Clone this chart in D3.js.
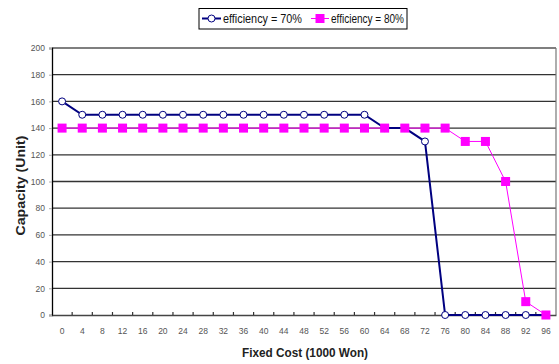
<!DOCTYPE html>
<html><head><meta charset="utf-8">
<script src="https://cdn.jsdelivr.net/npm/d3@7"></script>
<style>
body{margin:0;background:#fff;}
text{font-family:"Liberation Sans",Arial,sans-serif;}
</style></head>
<body><svg id="c" width="559" height="364"></svg>
<script>
const categories = [0,4,8,12,16,20,24,28,32,36,40,44,48,52,56,60,64,68,72,76,80,84,88,92,96];
const eff70 = [160,150,150,150,150,150,150,150,150,150,150,150,150,150,150,150,140,140,130,0,0,0,0,0,0];
const eff80 = [140,140,140,140,140,140,140,140,140,140,140,140,140,140,140,140,140,140,140,140,130,130,100,10,0];
const yTicks = [0,20,40,60,80,100,120,140,160,180,200];
const seriesNames = ["efficiency = 70%","efficiency = 80%"];

const svg = d3.select("#c");
const L=52,R=556,T=48,B=315;
const x = d3.scaleBand().domain(categories).range([L,R]);
const y = d3.scaleLinear().domain([0,200]).range([B,T]);
const cx = d => x(d)+x.bandwidth()/2;

// gridlines
svg.append("g").selectAll("line").data(yTicks.filter(v=>v>0)).join("line")
  .attr("x1",L).attr("x2",R).attr("y1",d=>y(d)).attr("y2",d=>y(d))
  .attr("stroke",d=>d===200?"#000":"#333").attr("stroke-width",d=>d===200?1.2:1.3);
// right border
svg.append("line").attr("x1",R).attr("x2",R).attr("y1",T).attr("y2",B).attr("stroke","#777").attr("stroke-width",1.2);

// y axis
const ya = svg.append("g").attr("transform",`translate(${L},0)`)
  .call(d3.axisLeft(y).tickValues(yTicks).tickSize(3).tickPadding(4));
ya.select(".domain").attr("stroke","#000").attr("stroke-width",1.3);
ya.selectAll(".tick line").attr("stroke","#aaa");
ya.selectAll("text").attr("font-size",8.5).attr("fill","#555");

// x axis
const xa = svg.append("g").attr("transform",`translate(0,${B})`)
  .call(d3.axisBottom(x).tickSize(0).tickPadding(13));
xa.select(".domain").attr("stroke","#444").attr("stroke-width",1.5);
xa.selectAll("text").attr("font-size",8.5).attr("fill","#555");
// category boundary ticks (inside)
svg.append("g").selectAll("line").data(categories.slice(1)).join("line")
  .attr("x1",d=>x(d)).attr("x2",d=>x(d)).attr("y1",B).attr("y2",B-3)
  .attr("stroke","#333").attr("stroke-width",1.2);

// axis titles
svg.append("text").attr("transform",`translate(25,${(T+B)/2+4}) rotate(-90)`)
  .attr("text-anchor","middle").attr("font-size",13).attr("font-weight","bold")
  .attr("textLength",100).attr("lengthAdjust","spacingAndGlyphs")
  .attr("fill","#222").text("Capacity (Unit)");
svg.append("text").attr("x",305).attr("y",357).attr("text-anchor","middle")
  .attr("font-size",13).attr("font-weight","bold")
  .attr("textLength",126).attr("lengthAdjust","spacingAndGlyphs")
  .attr("fill","#222").text("Fixed Cost (1000 Won)");

const line = d3.line().x((d,i)=>cx(categories[i])).y(d=>y(d));

// series 80%
svg.append("path").datum(eff80).attr("d",line).attr("fill","none").attr("stroke","#ff00ff").attr("stroke-width",1);
// series 70%
svg.append("path").datum(eff70).attr("d",line).attr("fill","none").attr("stroke","#000080").attr("stroke-width",2);
svg.append("g").selectAll("circle").data(eff70).join("circle")
  .attr("cx",(d,i)=>cx(categories[i])).attr("cy",d=>y(d)).attr("r",3.5)
  .attr("fill","#fff").attr("stroke","#000080").attr("stroke-width",1);
svg.append("g").selectAll("rect").data(eff80).join("rect")
  .attr("x",(d,i)=>cx(categories[i])-4.5).attr("y",d=>y(d)-4.5).attr("width",9).attr("height",9)
  .attr("fill","#ff00ff");

// legend
const lg = svg.append("g");
lg.append("rect").attr("x",199).attr("y",8.5).attr("width",208).attr("height",20.5)
  .attr("fill","#fff").attr("stroke","#000").attr("stroke-width",1);
lg.append("line").attr("x1",202).attr("x2",221).attr("y1",18.5).attr("y2",18.5).attr("stroke","#000080").attr("stroke-width",2);
lg.append("circle").attr("cx",211.5).attr("cy",18.5).attr("r",3.5).attr("fill","#fff").attr("stroke","#000080");
lg.append("text").attr("x",223).attr("y",22.5).attr("font-size",12).attr("fill","#111")
  .attr("textLength",79).attr("lengthAdjust","spacingAndGlyphs").text(seriesNames[0]);
lg.append("line").attr("x1",311).attr("x2",329).attr("y1",18.5).attr("y2",18.5).attr("stroke","#ff00ff").attr("stroke-width",1);
lg.append("rect").attr("x",315.5).attr("y",14).attr("width",9).attr("height",9).attr("fill","#ff00ff");
lg.append("text").attr("x",331).attr("y",22.5).attr("font-size",12).attr("fill","#111")
  .attr("textLength",73).attr("lengthAdjust","spacingAndGlyphs").text(seriesNames[1]);
</script></body></html>
